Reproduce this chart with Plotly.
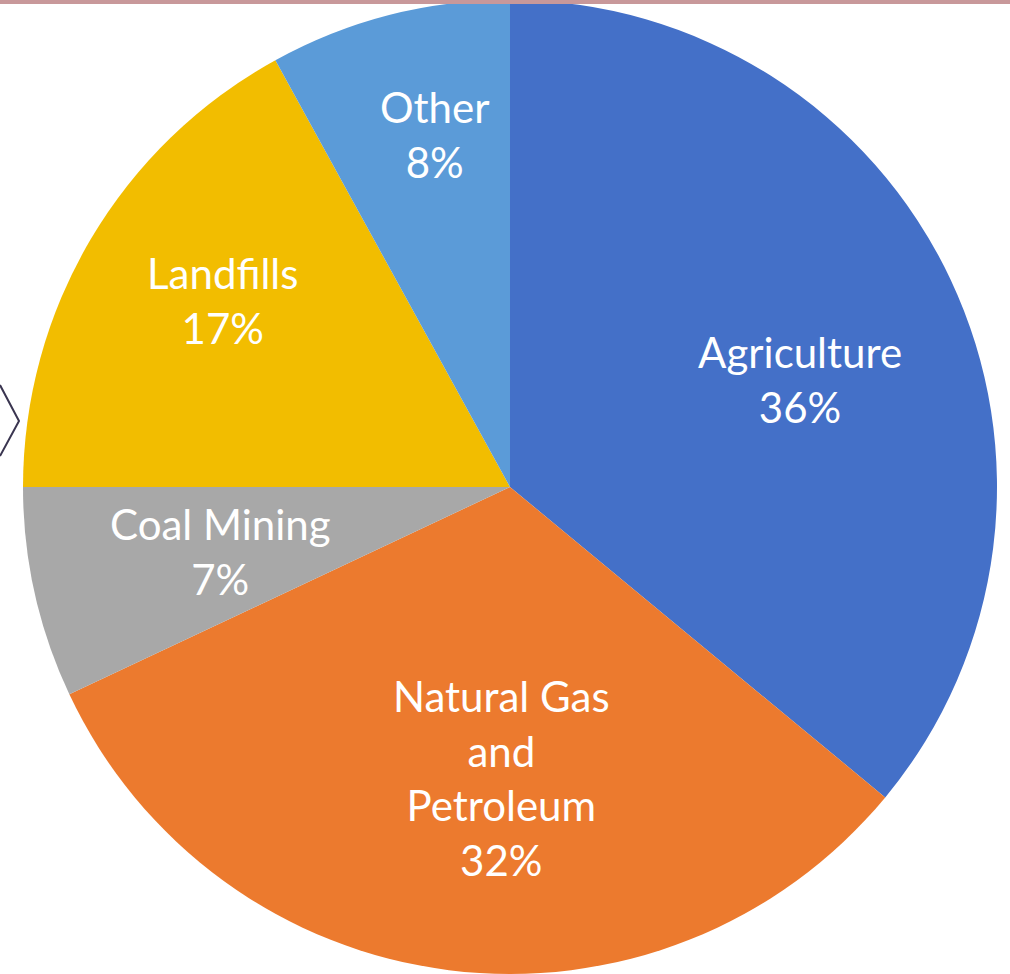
import math
import plotly.graph_objects as go

categories = ["Agriculture", "Natural Gas and Petroleum", "Coal Mining", "Landfills", "Other"]
display_labels = ["Agriculture", "Natural Gas<br>and<br>Petroleum", "Coal Mining", "Landfills", "Other"]
values = [36, 32, 7, 17, 8]
colors = ["#4470C8", "#EC7A2E", "#A8A8A8", "#F2BD00", "#5B9BD8"]

# label placement style: fraction of radius and angular nudge (deg) from slice middle
label_radius = [0.635, 0.598, 0.61, 0.705, 0.739]
label_shift = [4.9, -5.6, 0.0, 2.4, 2.4]

W, H = 1010, 974
cx, cy, R = 510, 487, 487

fig = go.Figure(go.Pie(
    labels=categories,
    values=values,
    textinfo="none",
    sort=False,
    direction="clockwise",
    rotation=0,
    marker=dict(colors=colors, line=dict(width=0)),
    showlegend=False,
    hoverinfo="label+percent",
    domain=dict(x=[(cx - R) / W, (cx + R) / W], y=[0, 1]),
))

total = sum(values)
annotations = []
cum = 0
for lab, v, fr, sh in zip(display_labels, values, label_radius, label_shift):
    mid = (cum + v / 2) / total * 2 * math.pi + math.radians(sh)
    cum += v
    px = cx + fr * R * math.sin(mid)
    py = cy - fr * R * math.cos(mid)
    annotations.append(dict(
        x=px / W, y=1 - py / H, xref="paper", yref="paper",
        text=f"{lab}<br>{round(v / total * 100)}%",
        showarrow=False, xanchor="center", yanchor="middle",
        font=dict(family="Lato", size=42, color="white"),
    ))

fig.update_layout(
    width=W, height=H,
    margin=dict(l=0, r=0, t=0, b=0),
    paper_bgcolor="white",
    plot_bgcolor="white",
    annotations=annotations,
    shapes=[
        dict(type="rect", xref="paper", yref="paper", x0=0, x1=1, y0=1 - 4 / H, y1=1,
             fillcolor="#C8989A", line=dict(width=0), layer="above"),
        dict(type="path", xref="paper", yref="paper",
             path=f"M 0,{1 - 385 / H} L {19 / W},{1 - 421 / H} L 0,{1 - 456 / H}",
             line=dict(color="#3A3550", width=2)),
    ],
)

fig.write_html("out.html", config={"displayModeBar": False},
               post_script="document.body.style.margin='0';")
